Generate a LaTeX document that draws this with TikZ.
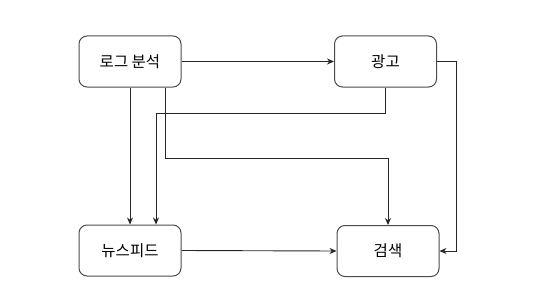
\documentclass[tikz,border=0pt]{standalone}
\usepackage{fontspec}
\newfontfamily\kr{Noto Sans CJK KR}
\usetikzlibrary{arrows.meta}
\begin{document}
\begin{tikzpicture}[x=1pt,y=-1pt,
  box/.style={draw=black!70,line width=1pt,rounded corners=8pt,minimum width=102pt,minimum height=51pt,inner sep=0pt,font=\kr\fontsize{15.5}{18}\selectfont,fill=white},
  conn/.style={draw=black!85,line width=0.9pt,-{Stealth[length=7pt,width=6pt]}}]
\useasboundingbox (0,0) rectangle (556,305);
\node[box] (log) at (130,61.5) {로그 분석};
\node[box] (ad) at (385.5,61.5) {광고};
\node[box] (news) at (130,250.5) {뉴스피드};
\node[box] (search) at (388,251) {검색};
\draw[conn] (log.east) -- (ad.west);
\draw[conn] (log.south) -- (news.north);
\draw[conn] (log.south -| 165,0) -- (165,158) -- (388,158) -- (search.north);
\draw[conn] (ad.south -| 385,0) -- (385,113) -- (156,113) -- (news.north -| 156,0);
\draw[conn] (ad.east) -- (456,61.5) -- (456,251) -- (search.east);
\draw[conn] (news.east) -- (search.west);
\end{tikzpicture}
\end{document}
